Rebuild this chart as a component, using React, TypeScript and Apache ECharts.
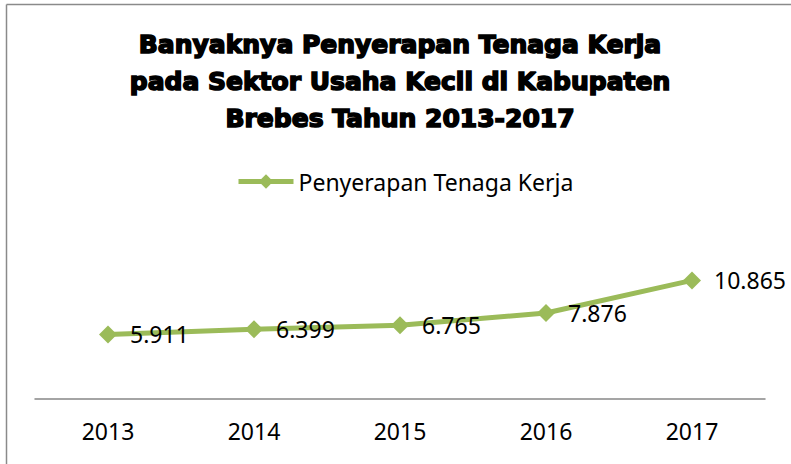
import React, { useEffect, useRef } from "react";
import * as echarts from "echarts";

const categories = ["2013", "2014", "2015", "2016", "2017"];
const seriesName = "Penyerapan Tenaga Kerja";
const values = [5.911, 6.399, 6.765, 7.876, 10.865];
const titleLines = [
  "Banyaknya Penyerapan Tenaga Kerja",
  "pada Sektor Usaha Kecil di Kabupaten",
  "Brebes Tahun 2013-2017",
];

const GREEN = "#9BBB59";
const FONT = "'Noto Sans', 'Open Sans', sans-serif";

export default function App() {
  const ref = useRef<HTMLDivElement>(null);
  useEffect(() => {
    if (!ref.current) return;
    const chart = echarts.init(ref.current, undefined, { renderer: "svg" });
    chart.setOption({
      animation: false,
      backgroundColor: "#ffffff",
      title: {
        text: titleLines.join("\n"),
        left: 400,
        top: 26,
        padding: 0,
        textAlign: "center",
        textStyle: {
          fontFamily: "'DejaVu Sans', sans-serif",
          fontWeight: "bold",
          fontSize: 25,
          lineHeight: 37,
          color: "#000",
          textBorderColor: "#000",
          textBorderWidth: 1.6,
        },
      },
      legend: {
        data: [seriesName],
        left: 236,
        top: 170,
        padding: 0,
        itemWidth: 55,
        itemHeight: 18,
        itemGap: 4,
        lineStyle: { width: 5 },
        textStyle: { fontFamily: FONT, fontSize: 23, color: "#000" },
      },
      graphic: [
        { type: "line", shape: { x1: 6.5, y1: 4.5, x2: 791, y2: 4.5 }, style: { stroke: "#8a8a8a", lineWidth: 1.5 } },
        { type: "line", shape: { x1: 6.5, y1: 4.5, x2: 6.5, y2: 464 }, style: { stroke: "#8a8a8a", lineWidth: 1.5 } },
      ],
      grid: { left: 35, right: 26, top: 268, bottom: 65, containLabel: false },
      xAxis: {
        type: "category",
        data: categories,
        boundaryGap: true,
        axisLine: { lineStyle: { color: "#878787", width: 1.5 } },
        axisTick: { show: false },
        axisLabel: { fontFamily: FONT, fontSize: 23, color: "#000", margin: 20 },
      },
      yAxis: {
        type: "value",
        min: 0,
        max: 12,
        interval: 2,
        show: false,
        splitLine: { show: false },
      },
      series: [
        {
          name: seriesName,
          type: "line",
          data: values,
          symbol: "diamond",
          symbolSize: 18,
          lineStyle: { color: GREEN, width: 5 },
          itemStyle: { color: GREEN },
          label: {
            show: true,
            position: "right",
            distance: 13,
            fontFamily: FONT,
            fontSize: 23,
            color: "#000",
            formatter: (p: any) => p.value.toFixed(3),
          },
        },
      ],
    });
    return () => chart.dispose();
  }, []);
  return (
    <div
      ref={ref}
      style={{ position: "absolute", left: 0, top: 0, width: 791, height: 464 }}
    />
  );
}
